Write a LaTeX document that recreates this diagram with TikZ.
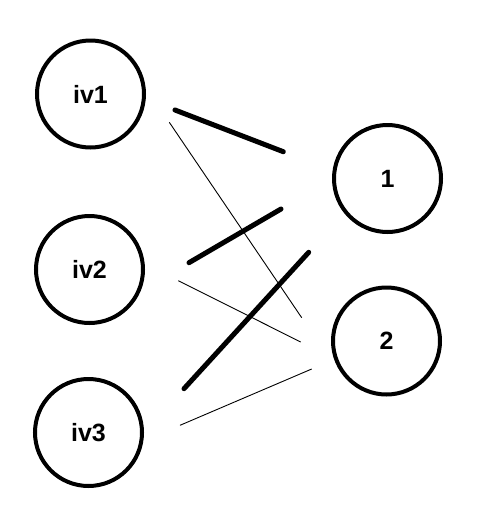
\documentclass[tikz,border=0pt]{standalone}
\usepackage{fontspec}
\setmainfont{Liberation Sans}
\usepackage{tikz}
\usetikzlibrary{positioning}

\begin{document}
\begin{tikzpicture}[
  x=1pt,y=-1pt,
  unit/.style={circle,draw=black,line width=4pt,minimum size=107pt,inner sep=0pt,font=\fontsize{25}{29}\selectfont\bfseries},
  strong/.style={black,line width=5pt,line cap=round},
  weak/.style={black,line width=0.9pt}
]
  \useasboundingbox (0,0) rectangle (477,528);

  % Input units -- left column
  \node[unit] (iv1) at (90.5,94)   {iv1};
  \node[unit] (iv2) at (89.5,269.5) {iv2};
  \node[unit] (iv3) at (88.5,432.5) {iv3};

  % Output units -- right column
  \node[unit] (out1) at (387.5,178.5) {1};
  \node[unit] (out2) at (386.5,341)   {2};

  % Strong weights to unit 1
  \draw[strong] ([shift={(84.5,16)}]iv1.center)   -- ([shift={(-104.2,-26.8)}]out1.center);
  \draw[strong] ([shift={(99.5,-6.8)}]iv2.center) -- ([shift={(-106.5,30.5)}]out1.center);
  \draw[strong] ([shift={(95.5,-43.8)}]iv3.center) -- ([shift={(-78.8,73.8)}]out1.center);

  % Weak weights to unit 2
  \draw[weak] ([shift={(78.8,28.3)}]iv1.center) -- ([shift={(-84.8,-23.3)}]out2.center);
  \draw[weak] ([shift={(88.8,11.2)}]iv2.center) -- ([shift={(-85.8,1)}]out2.center);
  \draw[weak] ([shift={(91.5,-7.2)}]iv3.center) -- ([shift={(-74.8,28)}]out2.center);
\end{tikzpicture}
\end{document}
